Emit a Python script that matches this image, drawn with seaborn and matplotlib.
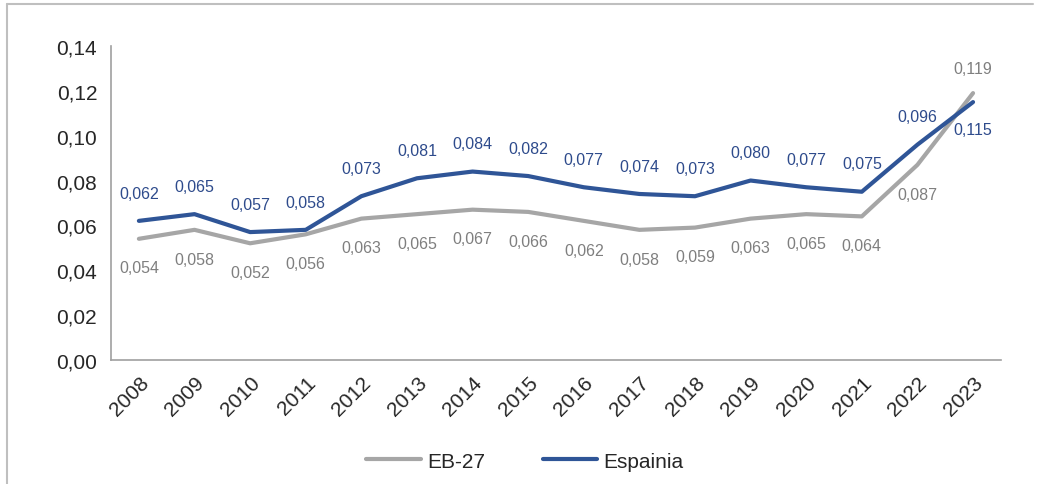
import matplotlib
matplotlib.use("Agg")
import matplotlib.pyplot as plt
import matplotlib.lines as mlines
import matplotlib.transforms as mtransforms
import seaborn as sns
import pandas as pd
import numpy as np

years = [str(y) for y in range(2008, 2024)]
eb27 = [0.054, 0.058, 0.052, 0.056, 0.063, 0.065, 0.067, 0.066,
        0.062, 0.058, 0.059, 0.063, 0.065, 0.064, 0.087, 0.119]
espainia = [0.062, 0.065, 0.057, 0.058, 0.073, 0.081, 0.084, 0.082,
            0.077, 0.074, 0.073, 0.080, 0.077, 0.075, 0.096, 0.115]
yticks = [0.00, 0.02, 0.04, 0.06, 0.08, 0.10, 0.12, 0.14]

grey = "#A6A6A6"
blue = "#2F5597"
grey_txt = "#7F7F7F"
blue_txt = "#2E4B8C"

sns.set_style("white")
plt.rcParams["font.family"] = ["Liberation Sans", "DejaVu Sans"]

df = pd.DataFrame({"pos": np.arange(len(years)), "EB-27": eb27, "Espainia": espainia})
long = df.melt(id_vars="pos", var_name="serie", value_name="val")

fig = plt.figure(figsize=(10.48, 4.85), dpi=100)
ax = fig.add_axes([0.106, 0.256, 0.849, 0.647])

sns.lineplot(data=long, x="pos", y="val", hue="serie",
             palette={"EB-27": grey, "Espainia": blue}, linewidth=3,
             ax=ax, legend=False)

fmt = lambda v: f"{v:.3f}".replace(".", ",")
for i, (g, b) in enumerate(zip(eb27, espainia)):
    g_up = g > b
    ax.annotate(fmt(g), (i, g), xytext=(0, 18 if g_up else -21), textcoords="offset points",
                ha="center", va="center", fontsize=11.5, color=grey_txt)
    ax.annotate(fmt(b), (i, b), xytext=(0, -20 if g_up else 20), textcoords="offset points",
                ha="center", va="center", fontsize=11.5, color=blue_txt)

ax.set_xlim(-0.5, len(years) - 0.5)
ax.set_ylim(0, 0.14)
ax.set_yticks(yticks)
ax.set_yticklabels([f"{t:.2f}".replace(".", ",") for t in yticks], fontsize=15)
ax.set_xticks(np.arange(len(years) + 1) - 0.5)
ax.set_xticklabels([])
ax.set_xticks(np.arange(len(years)), minor=True)
ax.set_xticklabels(years, minor=True, rotation=45, ha="right",
                   rotation_mode="anchor", fontsize=15)
shift = mtransforms.ScaledTranslation(-4 / 100, 0, fig.dpi_scale_trans)
for lbl in ax.get_xticklabels(minor=True):
    lbl.set_transform(lbl.get_transform() + shift)
ax.tick_params(axis="x", which="minor", length=0, pad=9)
ax.tick_params(axis="x", which="major", length=6, color="#A0A0A0", direction="out")
ax.tick_params(axis="y", length=6, color="#A0A0A0", direction="out", pad=4)
ax.set_xlabel("")
ax.set_ylabel("")
for s in ["top", "right"]:
    ax.spines[s].set_visible(False)
for s in ["left", "bottom"]:
    ax.spines[s].set_color("#A0A0A0")
    ax.spines[s].set_linewidth(1.2)

handles = [mlines.Line2D([], [], color=grey, lw=3, label="EB-27"),
           mlines.Line2D([], [], color=blue, lw=3, label="Espainia")]
fig.legend(handles=handles, loc="center", bbox_to_anchor=(0.501, 0.047), ncol=2,
           frameon=False, fontsize=15, handlelength=2.6, handletextpad=0.3,
           columnspacing=2.8)

# outer frame (top and left edges visible)
fig.add_artist(mlines.Line2D([7 / 1048, 1033 / 1048], [1 - 5 / 485, 1 - 5 / 485],
                             transform=fig.transFigure, color="#BFBFBF", lw=1.5))
fig.add_artist(mlines.Line2D([7 / 1048, 7 / 1048], [1 - 5 / 485, 0],
                             transform=fig.transFigure, color="#BFBFBF", lw=1.5))

fig.savefig("out.png", dpi=100)
